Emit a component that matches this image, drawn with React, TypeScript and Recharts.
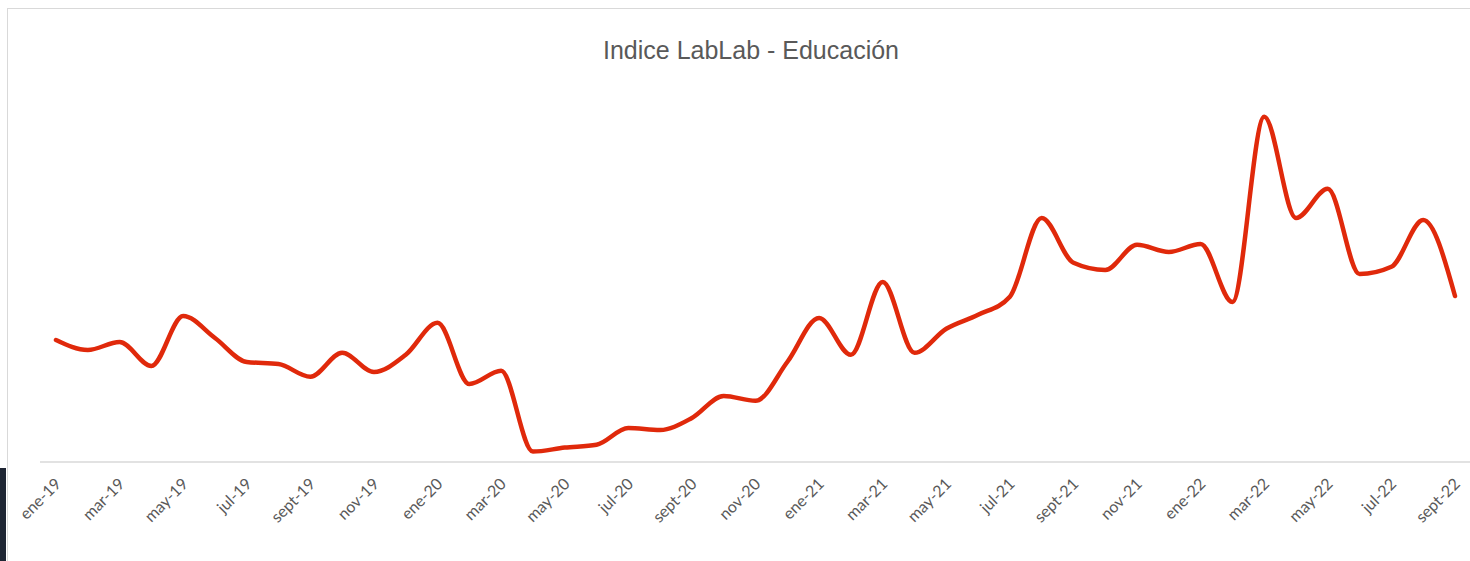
import { LineChart, Line, XAxis, YAxis } from "recharts";

const months = [
  "ene-19", "feb-19", "mar-19", "abr-19", "may-19", "jun-19", "jul-19", "ago-19", "sept-19", "oct-19", "nov-19", "dic-19",
  "ene-20", "feb-20", "mar-20", "abr-20", "may-20", "jun-20", "jul-20", "ago-20", "sept-20", "oct-20", "nov-20", "dic-20",
  "ene-21", "feb-21", "mar-21", "abr-21", "may-21", "jun-21", "jul-21", "ago-21", "sept-21", "oct-21", "nov-21", "dic-21",
  "ene-22", "feb-22", "mar-22", "abr-22", "may-22", "jun-22", "jul-22", "ago-22", "sept-22"
];

// índice (escala relativa)
const indexValues = [
  70.5, 68.0, 70.0, 64.0, 76.5, 71.0, 65.0, 64.5, 61.3, 67.3, 62.5, 66.8,
  74.8, 59.5, 62.8, 42.6, 43.6, 44.3, 48.5, 48.0, 51.0, 56.5, 55.3, 65.0,
  76.0, 66.8, 85.0, 67.3, 73.3, 76.8, 81.3, 101.0, 89.8, 88.0, 94.3, 92.5,
  94.5, 80.0, 126.3, 101.0, 108.3, 87.0, 88.8, 100.5, 81.5
];

const data = months.map((month, i) => ({ month, value: indexValues[i] }));

const AngledTick = ({ x, y, payload }: any) => (
  <text
    x={x + 6}
    y={y + 23}
    transform={`rotate(-45, ${x + 6}, ${y + 23})`}
    textAnchor="end"
    fill="#595959"
    fontSize={16}
    fontFamily="Lato, sans-serif"
  >
    {payload.value}
  </text>
);

export default function App() {
  return (
    <div style={{ position: "fixed", left: 0, top: 0, width: 1470, height: 561, overflow: "hidden", background: "#fff" }}>
      <div style={{ position: "absolute", left: 0, top: 468, width: 6, height: 93, background: "#1e2533" }} />
      <div
        style={{
          position: "absolute",
          left: 7,
          top: 8,
          width: 1490,
          height: 600,
          border: "1.5px solid #d9d9d9",
          boxSizing: "border-box"
        }}
      />
      <div
        style={{
          position: "absolute",
          left: 0,
          top: 36,
          width: 1502,
          textAlign: "center",
          fontFamily: "'Liberation Sans', Arial, sans-serif",
          fontSize: 25,
          lineHeight: "28px",
          color: "#595959"
        }}
      >
        Indice LabLab - Educación
      </div>
      <div style={{ position: "absolute", left: 0, top: 0 }}>
        <LineChart width={1490} height={561} data={data} margin={{ top: 62, right: 19, bottom: 39, left: 40 }}>
          <XAxis
            dataKey="month"
            interval={1}
            height={60}
            padding={{ left: 16, right: 16 }}
            tickLine={false}
            tickSize={0}
            tickMargin={0}
            axisLine={{ stroke: "#d9d9d9", strokeWidth: 1.5 }}
            tick={<AngledTick />}
          />
          <YAxis hide domain={[40, 140]} />
          <Line
            type="monotone"
            dataKey="value"
            stroke="#e0290b"
            strokeWidth={4.5}
            strokeLinecap="round"
            dot={false}
            isAnimationActive={false}
          />
        </LineChart>
      </div>
    </div>
  );
}
